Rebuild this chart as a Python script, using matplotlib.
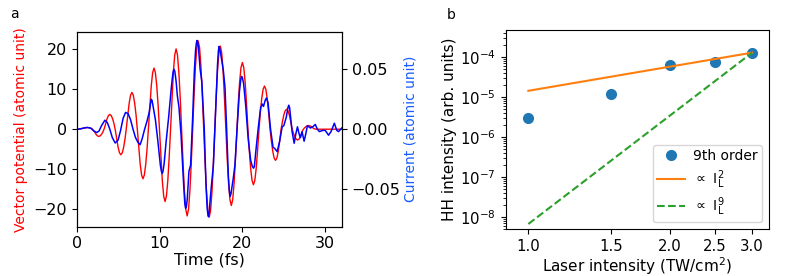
import numpy as np
from matplotlib import pyplot

# panel a: vector potential (red), read every 1/6 fs
vec_pot = [0.0, 0.03, 0.08, 0.15, 0.22, 0.28, 0.33, 0.38, 0.4,
           0.37, 0.28, 0.15, -0.3, -0.7, -1.27, -1.66, -1.8,
           -1.66, -1.27, -0.69, 0.2, 1.42, 2.62, 3.42, 3.7,
           3.42, 2.62, 1.42, -0.3, -2.45, -4.52, -5.91, -6.4,
           -5.91, -4.52, -2.45, 0.4, 3.52, 6.5, 8.5, 9.2,
           8.5, 6.5, 3.52, -0.4, -4.75, -8.77, -11.46, -12.4,
           -11.46, -8.77, -4.75, 0.4, 5.86, 10.82, 14.14, 15.3,
           14.14, 10.82, 5.86, -0.4, -6.93, -12.8, -16.72, -18.1,
           -16.72, -12.8, -6.93, 0.3, 7.7, 14.21, 18.57, 20.1,
           18.57, 14.21, 7.7, -0.2, -8.31, -15.34, -20.05, -21.7,
           -20.05, -15.34, -8.31, 0.1, 8.46, 15.62, 20.42, 22.1,
           20.42, 15.62, 8.46, 0.0, -8.43, -15.55, -20.33, -22.0,
           -20.33, -15.55, -8.43, -0.1, 7.97, 14.71, 19.22, 20.8,
           19.22, 14.71, 7.97, 0.1, -7.32, -13.5, -17.65, -19.1,
           -17.65, -13.5, -7.32, -0.2, 6.4, 11.81, 15.43, 16.7,
           15.43, 11.81, 6.4, 0.2, -5.32, -9.83, -12.84, -13.9,
           -12.84, -9.83, -5.32, -0.2, 4.14, 7.64, 9.98, 10.8,
           9.98, 7.64, 4.14, 0.2, -2.99, -5.51, -7.21, -7.8,
           -7.21, -5.51, -2.99, -0.1, 1.92, 3.54, 4.62, 5.0,
           4.62, 3.54, 1.92, 0.1, -1.03, -1.91, -2.49, -2.7,
           -2.49, -1.91, -1.03, -0.1, 0.34, 0.64, 0.83, 0.9,
           0.83, 0.64, 0.34, 0.1, 0.03, 0.0, 0.0, 0.0,
           0.0, 0.0, 0.0, 0.0, 0.0, 0.0, 0.0, 0.0,
           0.0, 0.0, 0.0, 0.0, 0.0, 0.0, 0.0, 0.0]
t_vec = np.arange(len(vec_pot)) / 6.0

# panel a: current (blue)
t_cur = [0.0, 0.5, 1.0, 1.3, 1.7, 2.1, 2.4, 2.7, 3.0, 3.4,
         3.7, 4.0, 4.3, 4.65, 5.0, 5.3, 5.6, 5.9, 6.2, 6.5,
         6.8, 7.1, 7.4, 7.65, 7.9, 8.2, 8.5, 8.75, 8.9, 9.0, 9.1, 9.25,
         9.5, 9.8, 10.1, 10.22, 10.32, 10.42, 10.55, 10.8, 11.1, 11.4, 11.55, 11.65, 11.75, 11.85,
         12.0, 12.15, 12.35, 12.6, 12.9, 13.05, 13.15, 13.25, 13.35, 13.55, 13.75, 14.0, 14.2, 14.35,
         14.45, 14.52, 14.6, 14.7, 14.9, 15.1, 15.4, 15.6, 15.75, 15.85, 15.92, 16.0, 16.1, 16.25, 16.5,
         16.8, 17.0, 17.1, 17.18, 17.27, 17.45, 17.7, 17.9, 18.1, 18.3, 18.42, 18.52, 18.62, 18.75,
         18.9, 19.1, 19.4, 19.65, 19.8, 19.9, 20.0, 20.15, 20.4, 20.7, 21.0, 21.2, 21.35, 21.45,
         21.6, 21.9, 22.2, 22.4, 22.55, 22.75, 22.9, 23.1, 23.4, 23.7, 23.9,
         24.2, 24.5, 24.8, 25.0, 25.3, 25.5, 25.6, 25.7, 25.85, 26.0, 26.25, 26.45,
         26.65, 26.85, 27.0, 27.2, 27.45, 27.65, 27.85, 28.2, 28.5, 28.8,
         29.05, 29.3, 29.7, 30.0, 30.4, 30.7, 31.1, 31.4, 31.6, 32.0]
current = [0.0, 0.0003, 0.0012, 0.0015, 0.0008, -0.0015, -0.0028, -0.0015, 0.003, 0.0075,
           0.0055, 0.0, -0.007, -0.0115, -0.009, -0.001, 0.009, 0.014, 0.013, 0.008,
           0.0, -0.007, -0.011, -0.013, -0.008, 0.0, 0.007, 0.014, 0.021, 0.025, 0.024, 0.018,
           0.008, -0.010, -0.030, -0.035, -0.037, -0.035, -0.029, -0.010, 0.010, 0.033, 0.043, 0.048, 0.050, 0.048,
           0.040, 0.028, 0.018, -0.005, -0.045, -0.062, -0.066, -0.064, -0.058, -0.035, -0.030, 0.010, 0.048, 0.066,
           0.072, 0.074, 0.073, 0.068, 0.050, 0.040, 0.0, -0.045, -0.066, -0.072, -0.073, -0.069, -0.060, -0.048, -0.030,
           0.020, 0.054, 0.065, 0.069, 0.067, 0.060, 0.049, 0.035, 0.0, -0.038, -0.051, -0.056, -0.054, -0.048,
           -0.041, -0.030, 0.005, 0.032, 0.041, 0.044, 0.043, 0.038, 0.020, -0.008, -0.026, -0.031, -0.0325, -0.031,
           -0.020, 0.0, 0.018, 0.021, 0.019, 0.024, 0.026, 0.022, 0.0, -0.015, -0.016,
           -0.0187, -0.010, 0.002, 0.003, 0.010, 0.018, 0.020, 0.018, 0.008, -0.002, -0.0117, -0.004,
           0.002, -0.004, -0.007, -0.002, -0.010, -0.004, 0.003, 0.001, 0.002, 0.004,
           0.0, -0.002, -0.001, -0.001, -0.005, -0.002, 0.005, -0.001, -0.002, 0.001]

# panel b: harmonic yield vs laser intensity
intensity = [1.0, 1.5, 2.0, 2.5, 3.0]
hh_yield = [2.99e-6, 1.21e-5, 6.4e-5, 7.6e-5, 1.30e-4]
fit_x = [1.0, 3.0]
fit_sq = [1.44e-5, 1.30e-4]
fit_ninth = [6.6e-9, 1.30e-4]
xtick_vals = [1.0, 1.5, 2.0, 2.5, 3.0]

fig = pyplot.figure(figsize=(7.89, 2.76), dpi=100)

# ---- panel a
ax = fig.add_axes([0.0972, 0.1786, 0.336, 0.7065])
ax.plot(t_vec, vec_pot, color='red', lw=1.0)
ax.set_xlim(0, 32)
ax.set_ylim(-24.4, 24.4)
ax.set_xlabel('Time (fs)', fontsize=11.5, labelpad=1)
ax.set_ylabel('Vector potential (atomic unit)', color='red', fontsize=10)
ax.set_yticks([-20, -10, 0, 10, 20])
ax.set_xticks([0, 10, 20, 30])
ax.tick_params(labelsize=11.5)

ax2 = ax.twinx()
ax2.plot(t_cur, current, color='blue', lw=1.1)
ax2.set_ylim(-0.0813, 0.0813)
ax2.set_yticks([-0.05, 0.0, 0.05])
ax2.tick_params(labelsize=11.5)
ax2.set_ylabel('Current (atomic unit)', color='#1a5cff', fontsize=10, labelpad=2)

fig.text(0.013, 0.935, 'a', fontsize=10)

# ---- panel b
bx = fig.add_axes([0.641, 0.169, 0.3337, 0.722])
bx.plot(intensity, hh_yield, 'o', color='C0', ms=7, label='9th order')
bx.plot(fit_x, fit_sq, '-', color='C1', lw=1.5, label=r'$\propto\ \mathrm{I}_\mathrm{L}^2$')
bx.plot(fit_x, fit_ninth, '--', color='C2', lw=1.5, label=r'$\propto\ \mathrm{I}_\mathrm{L}^9$')
bx.set_xscale('log')
bx.set_yscale('log')
bx.set_xlim(0.895, 3.26)
bx.set_ylim(10**-8.315, 10**-3.32)
bx.set_xticks(xtick_vals)
bx.set_xticklabels(['%.1f' % v for v in xtick_vals])
bx.xaxis.set_minor_locator(pyplot.NullLocator())
bx.tick_params(labelsize=10.7)
bx.set_xlabel('Laser intensity (TW/cm$^2$)', fontsize=11, labelpad=1)
bx.set_ylabel('HH intensity (arb. units)', fontsize=11, labelpad=2)
bx.legend(loc='lower right', fontsize=10, borderpad=0.3, labelspacing=0.35,
          handletextpad=0.6)

fig.text(0.566, 0.93, 'b', fontsize=10)

pyplot.savefig('out.png', dpi=100)
